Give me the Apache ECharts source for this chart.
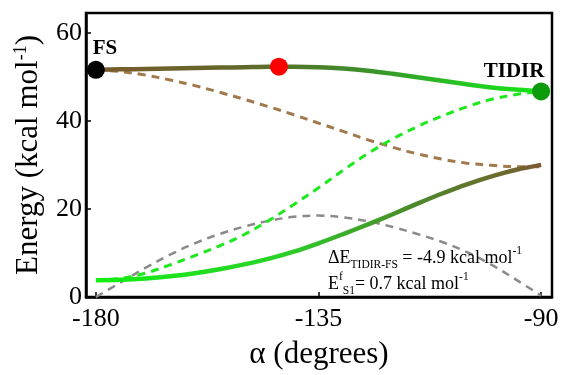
<!DOCTYPE html>
<html>
<head>
<meta charset="utf-8">
<script src="https://cdn.jsdelivr.net/npm/echarts@6/dist/echarts.min.js"></script>
<style>
  html, body { margin: 0; padding: 0; background: #fff; }
  #chart { width: 570px; height: 375px; }
</style>
</head>
<body>
<div id="chart"></div>
<script>
// Torsion angle α (degrees) at which the energy profiles are sampled
const alpha = [-180, -175, -170, -165, -160, -155, -150, -145, -140, -135,
               -130, -125, -120, -115, -110, -105, -100, -95, -90];

// Upper adiabatic surface (solid, brown → green)
const upperSolid = [51.6, 51.7, 51.8, 51.9, 52.0, 52.1, 52.2, 52.3, 52.3, 52.2,
                    51.9, 51.4, 50.7, 49.9, 49.1, 48.3, 47.6, 47.1, 46.7];
// Lower adiabatic surface (solid, green → brown)
const lowerSolid = [3.8, 3.9, 4.2, 4.7, 5.4, 6.3, 7.4, 8.7, 10.3, 12.2,
                    14.3, 16.5, 18.8, 21.2, 23.5, 25.6, 27.4, 28.9, 30.0];
// Diabatic states (dashed)
const brownDiabat = [51.6, 51.2, 50.4, 49.3, 48.0, 46.5, 44.9, 43.2, 41.4, 39.5,
                     37.6, 35.7, 34.0, 32.5, 31.3, 30.4, 29.9, 29.6, 29.6];
const greenDiabat = [3.8, 4.2, 5.4, 7.3, 9.4, 11.6, 14.2, 17.4, 21.0, 24.8,
                     28.8, 32.6, 35.9, 38.7, 41.1, 43.2, 44.9, 46.0, 46.7];
// Coupling term (grey dashed)
const coupling = [0.0, 3.3, 6.6, 9.6, 12.2, 14.3, 16.0, 17.3, 18.2, 18.5,
                  18.1, 17.2, 15.9, 14.3, 12.5, 10.2, 7.3, 3.9, 0.3];

// Stationary points
const fsAlpha = -180, fsEnergy = 51.6;
const barrierS1 = 0.7;          // E^f_S1
const deltaE = -4.9;            // ΔE TIDIR-FS
const tsAlpha = -143;
const tidirAlpha = -90;

// Axis ticks
const xTicks = [-180, -135, -90];
const yTicks = [0, 20, 40, 60];

const pair = (xs, ys) => xs.map((x, i) => [x, ys[i]]);

const serif = 'Liberation Serif';
const SMOOTH = 0.35;

const chart = echarts.init(document.getElementById('chart'), null, { renderer: 'canvas' });

const upperGrad = new echarts.graphic.LinearGradient(0, 0, 1, 0, [
  { offset: 0, color: '#7a5a2c' },
  { offset: 0.35, color: '#5f6a2a' },
  { offset: 0.6, color: '#3c8f2a' },
  { offset: 0.85, color: '#22cc22' },
  { offset: 1, color: '#16e616' }
]);
const lowerGrad = new echarts.graphic.LinearGradient(0, 0, 1, 0, [
  { offset: 0, color: '#12ee12' },
  { offset: 0.4, color: '#28d428' },
  { offset: 0.7, color: '#4a8c2a' },
  { offset: 1, color: '#7c5a32' }
]);

const dashedLine = (data, color, width) => ({
  type: 'line', data, smooth: SMOOTH, showSymbol: false, silent: true,
  lineStyle: { color, width, type: [8, 6] }, z: 2
});

chart.setOption({
  animation: false,
  grid: {
    left: 86, right: 18, top: 13, bottom: 74,
    show: true, borderColor: '#000', borderWidth: 2.5, backgroundColor: 'transparent'
  },
  xAxis: {
    type: 'value', min: -182, max: -87.8,
    name: 'α (degrees)', nameLocation: 'middle', nameGap: 42,
    nameTextStyle: { fontFamily: serif, fontSize: 31, color: '#000' },
    axisLine: { lineStyle: { color: '#000', width: 2.5 } },
    axisTick: { inside: true, length: 5, customValues: xTicks, lineStyle: { color: '#000', width: 1.5 } },
    axisLabel: { customValues: xTicks, fontFamily: serif, fontSize: 26, color: '#000', margin: 9 },
    splitLine: { show: false }
  },
  yAxis: {
    type: 'value', min: 0, max: 64.5,
    name: '{m|Energy (kcal mol}{s|-1}{m|)}', nameLocation: 'middle', nameGap: 40, nameRotate: 90,
    nameTextStyle: {
      fontFamily: serif, fontSize: 31, color: '#000',
      rich: {
        m: { fontFamily: serif, fontSize: 31, lineHeight: 34, color: '#000' },
        s: { fontFamily: serif, fontSize: 18, lineHeight: 20, verticalAlign: 'top', color: '#000' }
      }
    },
    axisLine: { lineStyle: { color: '#000', width: 2.5 } },
    axisTick: { inside: true, length: 5, customValues: yTicks, lineStyle: { color: '#000', width: 1.5 } },
    axisLabel: { customValues: yTicks, fontFamily: serif, fontSize: 26, color: '#000', margin: 4 },
    splitLine: { show: false }
  },
  series: [
    dashedLine(pair(alpha, coupling), '#8a8a8a', 2.5),
    dashedLine(pair(alpha, brownDiabat), '#a07a4c', 3),
    dashedLine(pair(alpha, greenDiabat), '#1ee81e', 3),
    {
      type: 'line', data: pair(alpha, lowerSolid), smooth: SMOOTH, showSymbol: false, silent: true,
      lineStyle: { color: lowerGrad, width: 4.5 }, z: 3
    },
    {
      type: 'line', data: pair(alpha, upperSolid), smooth: SMOOTH, showSymbol: false, silent: true,
      lineStyle: { color: upperGrad, width: 4.5 }, z: 3
    },
    {
      type: 'scatter', symbolSize: 18, z: 5, silent: true,
      itemStyle: { opacity: 1 },
      label: {
        show: true, position: 'top', distance: 2,
        fontFamily: serif, fontWeight: 'bold', fontSize: 21, color: '#000', opacity: 1
      },
      data: [
        { value: [fsAlpha, fsEnergy], itemStyle: { color: '#000', opacity: 1 },
          label: { formatter: 'FS', offset: [9, 0] } },
        { value: [tsAlpha, fsEnergy + barrierS1], itemStyle: { color: '#ff0000', opacity: 1 },
          label: { show: false } },
        { value: [tidirAlpha, fsEnergy + deltaE], itemStyle: { color: '#0b9b0b', opacity: 1 },
          label: { formatter: 'TIDIR', offset: [-27, 2] } }
      ]
    }
  ],
  graphic: [{
    type: 'text', left: 328, top: 245, z: 10, silent: true,
    style: {
      text: '{n|ΔE}{b|TIDIR-FS}{n| = -4.9 kcal mol}{t|-1}\n{n|E}{t|f}{b|S1}{n|= 0.7 kcal mol}{t|-1}',
      fill: '#000',
      rich: {
        n: { fontFamily: serif, fontSize: 18, lineHeight: 26, fill: '#000' },
        b: { fontFamily: serif, fontSize: 11.5, lineHeight: 10, verticalAlign: 'bottom', fill: '#000' },
        t: { fontFamily: serif, fontSize: 11.5, lineHeight: 16, verticalAlign: 'top', fill: '#000' }
      }
    }
  }]
});
</script>
</body>
</html>
